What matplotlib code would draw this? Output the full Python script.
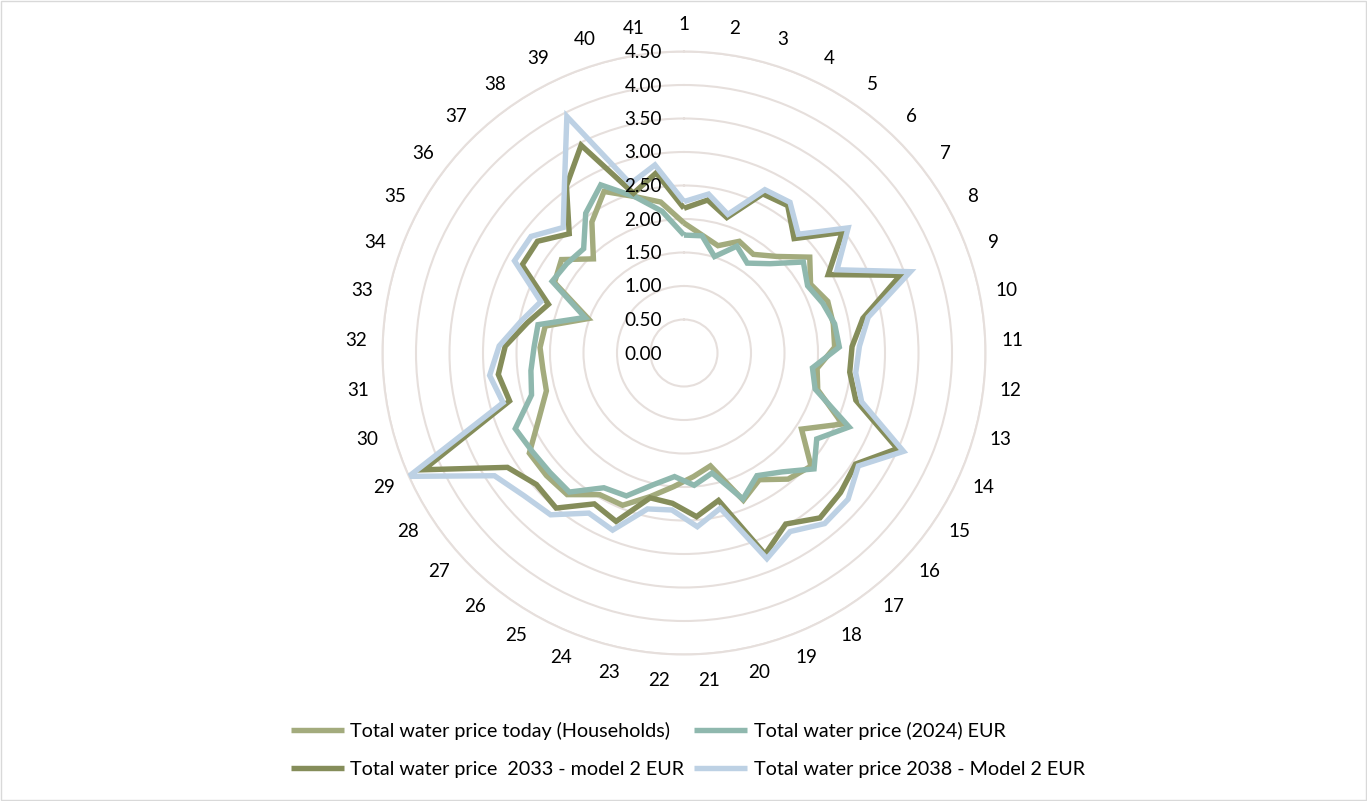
import numpy as np
import matplotlib
matplotlib.use("Agg")
import matplotlib.pyplot as plt
import matplotlib.transforms as mtransforms
from matplotlib.patches import Rectangle

plt.rcParams['font.family'] = ['Lato', 'DejaVu Sans']

categories = [str(i) for i in range(1, 42)]

today_households = [1.94, 1.78, 1.68, 1.86, 1.80, 2.00, 2.36, 2.15, 2.28, 2.27,
                    2.25, 2.00, 2.07, 2.59, 2.09, 2.54, 2.44, 2.20, 2.37, 1.73,
                    1.85, 2.00, 2.20, 2.45, 2.46, 2.74, 2.75, 2.75, 2.37, 2.13,
                    2.12, 2.15, 2.11, 1.52, 2.20, 2.30, 1.95, 2.39, 2.69, 2.45,
                    2.28]
price_2024 = [1.76, 1.77, 1.51, 1.78, 1.64, 1.85, 2.24, 2.10, 2.20, 2.29,
              2.32, 1.93, 2.03, 2.70, 2.36, 2.60, 2.30, 2.13, 2.35, 1.84,
              1.98, 1.85, 2.02, 2.30, 2.34, 2.69, 2.68, 2.70, 2.76, 2.36,
              2.30, 2.24, 2.22, 1.57, 2.24, 2.20, 2.16, 2.55, 2.80, 2.45,
              2.14]
price_2033 = [2.16, 2.31, 2.12, 2.65, 2.69, 2.37, 2.97, 2.45, 3.43, 2.72,
              2.51, 2.49, 2.66, 3.49, 3.05, 3.13, 3.19, 2.97, 3.24, 2.26,
              2.45, 2.25, 2.22, 2.71, 2.62, 3.00, 2.95, 3.14, 4.26, 2.70,
              2.79, 2.67, 2.38, 2.15, 2.75, 2.75, 2.47, 3.05, 3.46, 2.50,
              2.72]
price_2038 = [2.26, 2.40, 2.17, 2.72, 2.75, 2.46, 3.08, 2.60, 3.59, 2.80,
              2.62, 2.58, 2.75, 3.59, 3.10, 3.28, 3.30, 3.10, 3.31, 2.38,
              2.60, 2.35, 2.39, 2.85, 2.78, 3.13, 3.20, 3.37, 4.50, 2.80,
              2.92, 2.76, 2.48, 2.27, 2.88, 2.87, 2.60, 3.10, 3.94, 2.65,
              2.84]

series_names = ["Total water price today (Households)",
                "Total water price (2024) EUR",
                "Total water price  2033 - model 2 EUR",
                "Total water price 2038 - Model 2 EUR"]
series_values = [today_households, price_2024, price_2033, price_2038]
series_colors = ["#A3AB7D", "#8FB8AE", "#858D5A", "#BDD1E4"]

r_ticks = [0.0, 0.5, 1.0, 1.5, 2.0, 2.5, 3.0, 3.5, 4.0, 4.5]
r_max = 4.5

grid_color = "#E6DFDC"
text_color = "#000000"
fs = 13.6
fs_leg = 14.2

W, H = 1367, 801
fig = plt.figure(figsize=(W / 100, H / 100), dpi=100)

cx, cy, rad = 684, 353, 301.5
ax = fig.add_axes([(cx - rad) / W, 1 - (cy + rad) / H, 2 * rad / W, 2 * rad / H],
                  projection='polar')
ax.set_theta_zero_location('N')
ax.set_theta_direction(-1)
ax.set_ylim(0, r_max)

n = len(categories)
theta = np.arange(n) * 2 * np.pi / n

ax.set_xticks(theta)
ax.set_xticklabels([])
ax.xaxis.grid(False)
ax.set_yticks(r_ticks[1:])
ax.set_yticklabels([])
ax.yaxis.grid(True, color=grid_color, linewidth=1.5)
ax.spines['polar'].set_color(grid_color)
ax.spines['polar'].set_linewidth(1.5)
ax.tick_params(axis='both', length=0)
ax.set_facecolor('none')

lines = []
for vals, name, col in zip(series_values, series_names, series_colors):
    t = np.append(theta, theta[0])
    v = np.append(vals, vals[0])
    ln, = ax.plot(t, v, color=col, linewidth=3.9, label=name,
                  solid_joinstyle='miter', solid_capstyle='butt', zorder=3)
    lines.append(ln)

# radial value labels
off = mtransforms.offset_copy(ax.transData, fig=fig, x=-22, y=-1, units='dots')
for r in r_ticks:
    ax.text(0, r, f"{r:.2f}", transform=off, ha='right', va='center',
            fontsize=fs, color=text_color, clip_on=False, zorder=5)

# category labels
for th, lab in zip(theta, categories):
    ax.text(th, 4.9, lab, ha='center', va='center', fontsize=fs,
            color=text_color, clip_on=False)

# legend: row-wise order (today, 2024 / 2033, 2038)
order = [0, 2, 1, 3]
leg = fig.legend([lines[i] for i in order], [series_names[i] for i in order],
                 loc='center', ncol=2,
                 bbox_to_anchor=(688 / W, 1 - 750 / H), frameon=False,
                 fontsize=fs_leg, handlelength=2.65, handletextpad=0.35,
                 columnspacing=0.5, labelspacing=1.05)

fig.patches.append(Rectangle((0.001, 0.001), 0.998, 0.998, transform=fig.transFigure,
                             fill=False, edgecolor="#D9D9D9", linewidth=1.0))

fig.savefig("out.png", dpi=100, facecolor='white')
